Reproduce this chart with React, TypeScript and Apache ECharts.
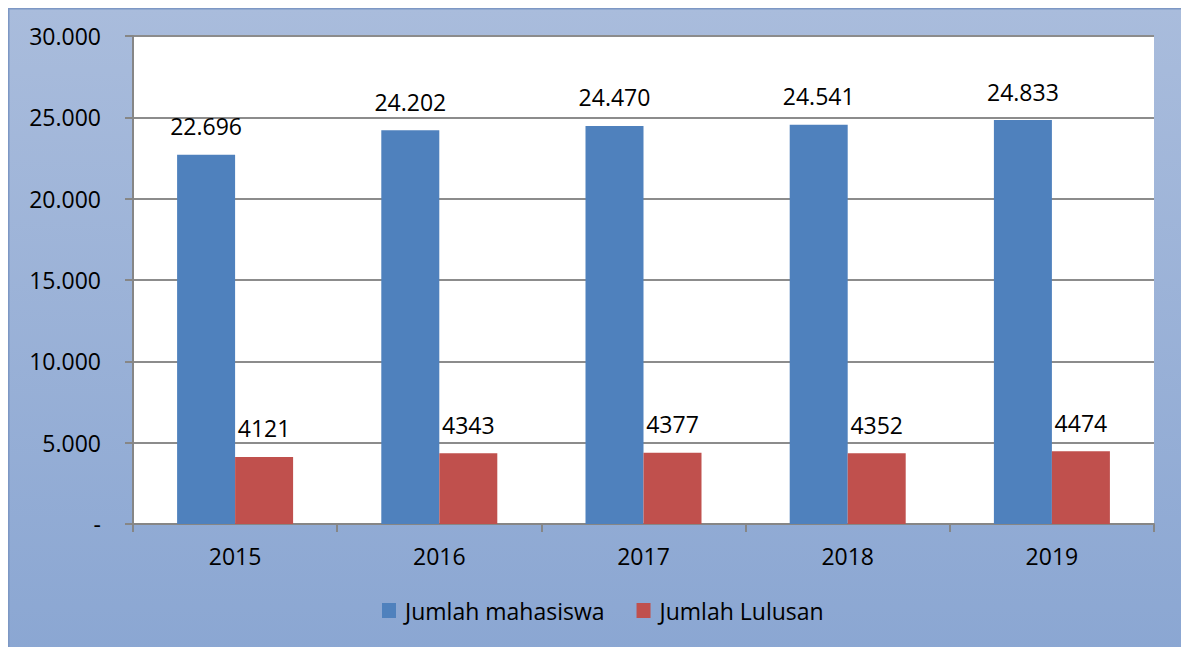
import React, { useEffect, useRef } from "react";
import * as echarts from "echarts";

const years = ["2015", "2016", "2017", "2018", "2019"];
const mahasiswa = [22696, 24202, 24470, 24541, 24833];
const lulusan = [4121, 4343, 4377, 4352, 4474];
const seriesNames = ["Jumlah mahasiswa", "Jumlah Lulusan"];

const FONT = "'Open Sans', 'Noto Sans', sans-serif";

function dotFmt(v: number): string {
  if (v === 0) return "-";
  return String(v).replace(/\B(?=(\d{3})+(?!\d))/g, ".");
}

export default function App() {
  const ref = useRef<HTMLDivElement>(null);
  useEffect(() => {
    if (!ref.current) return;
    document.documentElement.style.overflow = "hidden";
    const chart = echarts.init(ref.current, undefined, { renderer: "svg" });
    chart.setOption({
      animation: false,
      backgroundColor: {
        type: "linear",
        x: 0, y: 0, x2: 0, y2: 1,
        colorStops: [
          { offset: 0, color: "#a9bcdc" },
          { offset: 1, color: "#8aa6d2" },
        ],
      },
      graphic: [
        {
          type: "polyline",
          shape: { points: [[0.75, 660], [0.75, 0.75], [1200, 0.75]] },
          style: { fill: "none", stroke: "#7d97c4", lineWidth: 1.5 },
          silent: true,
        },
      ],
      grid: {
        left: 125,
        top: 28,
        width: 1021,
        height: 488,
        show: true,
        backgroundColor: "#ffffff",
        borderWidth: 0,
      },
      legend: {
        data: seriesNames,
        top: 586,
        left: 369,
        itemWidth: 14,
        itemHeight: 15,
        itemGap: 32,
        icon: "rect",
        textStyle: { fontFamily: FONT, fontSize: 23, color: "#000", padding: [0, 0, 0, 4] },
      },
      xAxis: {
        type: "category",
        data: years,
        axisLine: { lineStyle: { color: "#868686", width: 2 } },
        axisTick: { show: true, length: 8, lineStyle: { color: "#868686", width: 2 } },
        axisLabel: { fontFamily: FONT, fontSize: 23, color: "#000", margin: 20 },
      },
      yAxis: {
        type: "value",
        min: 0,
        max: 30000,
        interval: 5000,
        axisLine: { show: true, lineStyle: { color: "#868686", width: 2 } },
        axisTick: { show: true, length: 8, lineStyle: { color: "#868686", width: 2 } },
        splitLine: { lineStyle: { color: "#8c8c8c", width: 2 } },
        axisLabel: {
          fontFamily: FONT,
          fontSize: 23,
          color: "#000",
          margin: 32,
          formatter: (v: number) => dotFmt(v),
        },
      },
      series: [
        {
          name: seriesNames[0],
          type: "bar",
          data: mahasiswa,
          barWidth: 58,
          barGap: "0%",
          itemStyle: { color: "#4f81bd" },
          label: {
            show: true,
            position: "top",
            distance: 17,
            fontFamily: FONT,
            fontSize: 23,
            color: "#000",
            formatter: (p: any) => dotFmt(p.value),
          },
        },
        {
          name: seriesNames[1],
          type: "bar",
          data: lulusan,
          barWidth: 58,
          barGap: "0%",
          itemStyle: { color: "#c0504d" },
          label: {
            show: true,
            position: "top",
            distance: 17,
            fontFamily: FONT,
            fontSize: 23,
            color: "#000",
            formatter: (p: any) => String(p.value),
          },
        },
      ],
    });
    return () => chart.dispose();
  }, []);
  return (
    <div
      ref={ref}
      style={{ position: "absolute", left: 8, top: 8, width: 1200, height: 660 }}
    />
  );
}
